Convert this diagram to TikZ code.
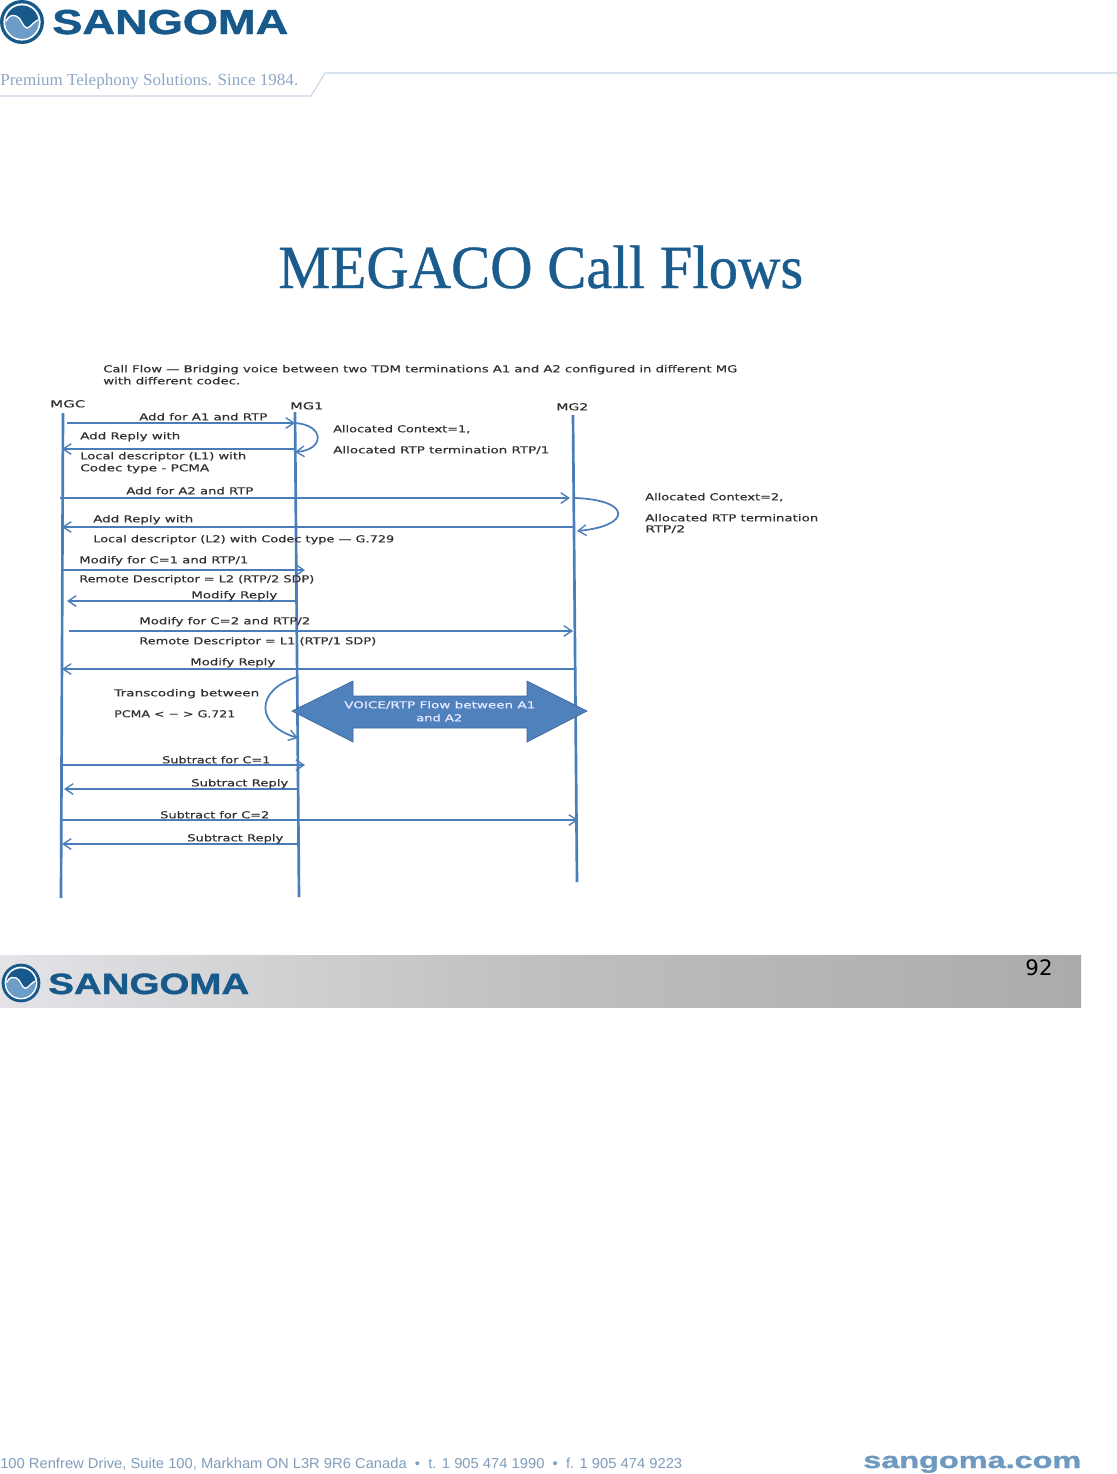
\documentclass[tikz,border=0pt]{standalone}
\usepackage{fontspec}
\usepackage{graphicx}
\setmainfont{DejaVu Sans}
\newfontfamily\serifface{Liberation Serif}
\newfontfamily\titleface[FakeBold=0.6]{Liberation Serif}
\newfontfamily\armface{Liberation Sans}
\newfontfamily\brandface[FakeBold=1.2]{Liberation Sans Bold}
\newfontfamily\flowface[FakeBold=0.35]{DejaVu Sans}
\usetikzlibrary{arrows.meta}
\definecolor{flowblue}{HTML}{4A7EBB}
\definecolor{blockblue}{HTML}{4F81BD}
\definecolor{logodark}{HTML}{17598A}
\definecolor{logolight}{HTML}{6C9DC9}
\definecolor{labelgrey}{HTML}{303030}
\definecolor{tagblue}{HTML}{8FA7C6}
\definecolor{ruleblue}{HTML}{C6D6E6}
\definecolor{addrblue}{HTML}{7F9DBB}
\definecolor{webblue}{HTML}{6E9AC2}
\definecolor{titleblue}{HTML}{1B5C8E}
\newsavebox{\fitbox}
\newcommand{\fitw}[2]{\sbox{\fitbox}{#2}\pgfmathsetmacro{\fitsx}{(#1)*0.75/\wd\fitbox}\scalebox{\fitsx}[1]{\usebox{\fitbox}}}
% name, x left, x right, y centre, text
\newcommand{\lab}[5]{\node[flowlabel] (#1) at (#2,#4+4.3) {\fitw{#3-#2}{#5}};}
\newcommand{\sangomalogo}[3]{%
  \begin{scope}[shift={(#1,#2)},scale=#3]
    \fill[logodark] (0,0) circle[radius=22];
    \fill[white] (0,0) circle[radius=18.6];
    \begin{scope}
      \clip (0,0) circle[radius=16.6];
      \fill[logodark] (-20,-20) rectangle (20,20);
      \fill[logolight] (-20,-1) -- (-16,-1) .. controls (-13,-7) and (-9,-7) .. (-6,-6)
        .. controls (-1,-5) and (1,6) .. (5,6) .. controls (9,6) and (11,-2) .. (20,-3) -- (20,20) -- (-20,20) -- cycle;
      \draw[white,line width=1pt] (-20,-1) -- (-16,-1) .. controls (-13,-7) and (-9,-7) .. (-6,-6)
        .. controls (-1,-5) and (1,6) .. (5,6) .. controls (9,6) and (11,-2) .. (20,-3);
    \end{scope}
  \end{scope}}
\tikzset{
  flowlabel/.style={anchor=base west,inner sep=0pt,font=\flowface\fontsize{7.2}{8}\selectfont,text=labelgrey},
  lifeline/.style={draw=flowblue,line width=2pt},
  msg/.style={draw=flowblue,line width=1.1pt,-{Straight Barb[length=6pt,width=8pt,line width=1pt]}},
  loopline/.style={draw=flowblue,line width=1.3pt,-{Straight Barb[length=6pt,width=8pt,line width=1pt]}},
}
\begin{document}
\begin{tikzpicture}[x=0.75pt,y=-0.75pt]
\useasboundingbox (0,0) rectangle (1117,1474);
\fill[white] (0,0) rectangle (1117,1474);

% header
\sangomalogo{22}{22}{1}
\node[anchor=base west,inner sep=0pt,text=logodark,font=\brandface\fontsize{26}{28}\selectfont] (brand) at (52,34) {\fitw{236}{SANGOMA}};
\node[anchor=base west,inner sep=0pt,text=tagblue,font=\serifface\fontsize{12.6}{14}\selectfont] (tag) at (0,85) {\fitw{298}{Premium Telephony Solutions. Since 1984.}};
\coordinate (ra) at (0,96);
\coordinate (rb) at (311,96);
\coordinate (rc) at (325,73);
\coordinate (rd) at (1117,73);
\draw[ruleblue,line width=0.8pt] (ra) -- (rb) -- (rc) -- (rd);

% title
\node[anchor=base west,inner sep=0pt,text=titleblue,font=\titleface\fontsize{46}{50}\selectfont] (title) at (278,288) {\fitw{525}{MEGACO Call Flows}};

% intro
\lab{intro1}{103}{737}{368}{Call Flow — Bridging voice between two TDM terminations A1 and A2 configured in different MG}
\lab{intro2}{103}{240}{380}{with different codec.}
\lab{mgc}{50}{85}{403}{MGC}
\lab{mgone}{290}{323}{405}{MG1}
\lab{mgtwo}{556}{588}{406}{MG2}

% lifelines
\coordinate (mgcT) at (63,413);
\coordinate (mgcB) at (61,898);
\coordinate (oneT) at (295,412);
\coordinate (oneM) at (297,655);
\coordinate (oneB) at (299,897);
\coordinate (twoT) at (573,415);
\coordinate (twoB) at (577,882);
\draw[lifeline] (mgcT) -- (mgcB);
\draw[lifeline] (oneT) -- (oneM) -- (oneB);
\draw[lifeline] (twoT) -- (twoB);

% block arrow
\path[fill=blockblue,draw=blockblue!80!black,line width=0.5pt]
  (292,711) -- (353,681) -- (353,696) -- (527,696) -- (527,681) -- (587,711)
  -- (527,742) -- (527,728) -- (353,728) -- (353,742) -- cycle;
\node[flowlabel,text=white!92!blue] (voicea) at (344,708.3) {\fitw{191}{VOICE/RTP Flow between A1}};
\node[flowlabel,text=white!92!blue] (voiceb) at (416,721.3) {\fitw{46}{and A2}};

% messages
\coordinate (a1) at (67,423);  \coordinate (a2) at (295,423);
\coordinate (b1) at (296,449); \coordinate (b2) at (62,449);
\coordinate (c1) at (60,498);  \coordinate (c2) at (570,498);
\coordinate (d1) at (575,527); \coordinate (d2) at (62,527);
\coordinate (e1) at (62,570);  \coordinate (e2) at (305,570);
\coordinate (f1) at (295,601); \coordinate (f2) at (67,601);
\coordinate (g1) at (69,631);  \coordinate (g2) at (573,631);
\coordinate (h1) at (576,669); \coordinate (h2) at (62,669);
\coordinate (i1) at (62,765);  \coordinate (i2) at (305,765);
\coordinate (j1) at (298,789); \coordinate (j2) at (64,789);
\coordinate (k1) at (62,820);  \coordinate (k2) at (578,820);
\coordinate (l1) at (298,844); \coordinate (l2) at (62,844);
\foreach \p/\q in {a1/a2,b1/b2,c1/c2,d1/d2,e1/e2,f1/f2,g1/g2,h1/h2,i1/i2,j1/j2,k1/k2,l1/l2}
  \draw[msg] (\p) -- (\q);

% self loops
\coordinate (la) at (295,423); \coordinate (lb) at (295,452);
\coordinate (lc) at (575,498); \coordinate (ld) at (577,531);
\coordinate (le) at (297,677); \coordinate (lf) at (298,738);
\draw[loopline] (la) .. controls (325,425) and (325,450) .. (lb);
\draw[loopline] (lc) .. controls (632,500) and (632,526) .. (ld);
\draw[loopline] (le) .. controls (255,690) and (255,725) .. (lf);

% labels
\lab{t1}{139}{267}{416}{Add for A1 and RTP}
\lab{t2}{80}{180}{435}{Add Reply with}
\lab{t3}{80}{246}{455}{Local descriptor (L1) with}
\lab{t4}{80}{209}{467}{Codec type - PCMA}
\lab{t5}{126}{253}{490}{Add for A2 and RTP}
\lab{t6}{93}{193}{518}{Add Reply with}
\lab{t7}{93}{394}{538}{Local descriptor (L2) with Codec type — G.729}
\lab{t8}{79}{248}{559}{Modify for C=1 and RTP/1}
\lab{t9}{79}{314}{578}{Remote Descriptor = L2 (RTP/2 SDP)}
\lab{t10}{191}{277}{594}{Modify Reply}
\lab{t11}{139}{310}{620}{Modify for C=2 and RTP/2}
\lab{t12}{139}{376}{640}{Remote Descriptor = L1 (RTP/1 SDP)}
\lab{t13}{190}{275}{661}{Modify Reply}
\lab{t14}{114}{259}{692}{Transcoding between}
\lab{t15}{114}{235}{713}{PCMA < − > G.721}
\lab{t16}{162}{270}{759}{Subtract for C=1}
\lab{t17}{191}{288}{782}{Subtract Reply}
\lab{t18}{160}{269}{814}{Subtract for C=2}
\lab{t19}{187}{283}{837}{Subtract Reply}
\lab{n1}{333}{470}{428}{Allocated Context=1,}
\lab{n2}{333}{549}{449}{Allocated RTP termination RTP/1}
\lab{n3}{645}{783}{496}{Allocated Context=2,}
\lab{n4}{645}{818}{517}{Allocated RTP termination}
\lab{n5}{645}{685}{528}{RTP/2}

% footer band
\shade[left color=white!85!blue!40!gray!30,right color=black!33,middle color=black!25] (0,955) rectangle (1081,1007);
\sangomalogo{21}{983}{0.88}
\node[anchor=base west,inner sep=0pt,text=logodark,font=\brandface\fontsize{22}{24}\selectfont] (brandb) at (48,994) {\fitw{201}{SANGOMA}};
\node[anchor=base,inner sep=0pt,font=\fontsize{16}{18}\selectfont,text=black] (page) at (1039,975) {92};

% address
\node[anchor=base west,inner sep=0pt,text=addrblue,font=\armface\fontsize{10.8}{12}\selectfont] (addr) at (0,1468.5) {\fitw{682}{100 Renfrew Drive, Suite 100, Markham ON L3R 9R6 Canada \ • \ t. 1 905 474 1990 \ • \ f. 1 905 474 9223}};
\node[anchor=base west,inner sep=0pt,text=webblue,font=\brandface\fontsize{17}{19}\selectfont] (web) at (863,1468) {\fitw{218}{sangoma.com}};
\end{tikzpicture}
\end{document}
